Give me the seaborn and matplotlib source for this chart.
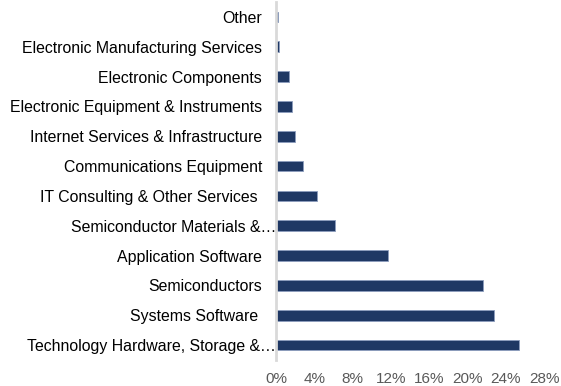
import matplotlib
matplotlib.use("Agg")
import matplotlib.pyplot as plt
import matplotlib.transforms as mtransforms
from matplotlib.ticker import FuncFormatter, MultipleLocator
import seaborn as sns
import pandas as pd

sectors = [
    "Other",
    "Electronic Manufacturing Services",
    "Electronic Components",
    "Electronic Equipment & Instruments",
    "Internet Services & Infrastructure",
    "Communications Equipment",
    "IT Consulting & Other Services ",
    "Semiconductor Materials &\u2026",
    "Application Software",
    "Semiconductors",
    "Systems Software ",
    "Technology Hardware, Storage &\u2026",
]
weights = [0.25, 0.35, 1.36, 1.7, 1.95, 2.8, 4.25, 6.2, 11.7, 21.6, 22.8, 25.4]

df = pd.DataFrame({"sector": sectors, "weight": weights})

sns.set_theme(style="white")
plt.rcParams["font.family"] = ["Liberation Sans", "DejaVu Sans"]

fig = plt.figure(figsize=(5.61, 3.86), dpi=100)
ax = fig.add_axes([276 / 561, 1 - 360 / 386, (544 - 276) / 561, (360 - 2) / 386])

sns.barplot(data=df, x="weight", y="sector", order=sectors, orient="h",
            color="#1f3864", edgecolor="#8c9dbd", linewidth=0.6,
            width=0.36, saturation=1, ax=ax)

ax.set_xlim(0, 28)
ax.xaxis.set_major_locator(MultipleLocator(4))
ax.xaxis.set_major_formatter(FuncFormatter(lambda v, _: f"{v:.0f}%"))
ax.set_xlabel("")
ax.set_ylabel("")

for side in ("top", "right", "bottom"):
    ax.spines[side].set_visible(False)
ax.spines["left"].set_color("#d9d9d9")
ax.spines["left"].set_linewidth(2)

ax.tick_params(axis="x", length=0, pad=8.5, labelsize=11, labelcolor="#595959")
ax.tick_params(axis="y", length=0, pad=10, labelsize=11.4, labelcolor="#000000")

# Truncated labels run right up to the axis line
shift = mtransforms.ScaledTranslation(14 / 100, 0, fig.dpi_scale_trans)
for lbl in ax.get_yticklabels():
    if lbl.get_text().endswith("\u2026"):
        lbl.set_transform(lbl.get_transform() + shift)

fig.savefig("out.png", dpi=100)
